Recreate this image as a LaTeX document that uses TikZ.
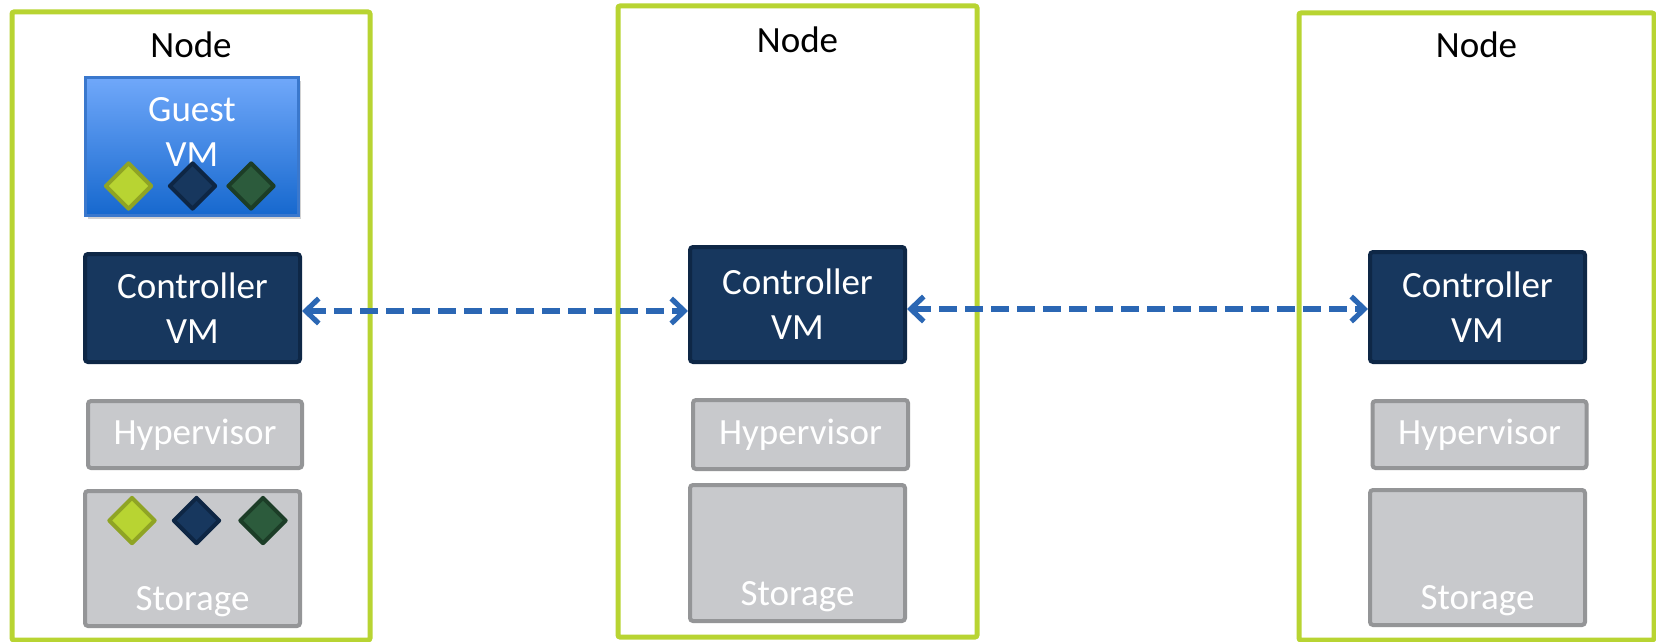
\documentclass[tikz,border=0pt]{standalone}
\usepackage{fontspec}
\setmainfont{Carlito}
\usetikzlibrary{arrows.meta,shapes.geometric,shadows}
\definecolor{nodegreen}{RGB}{184,212,50}
\definecolor{ctrlfill}{RGB}{23,55,94}
\definecolor{ctrlborder}{RGB}{14,39,70}
\definecolor{hypfill}{RGB}{200,201,204}
\definecolor{hypborder}{RGB}{148,149,151}
\definecolor{guesttop}{RGB}{112,168,250}
\definecolor{guestbot}{RGB}{22,104,206}
\definecolor{guestborder}{RGB}{58,120,205}
\definecolor{arrowblue}{RGB}{43,103,180}
\definecolor{limefill}{RGB}{184,212,50}
\definecolor{limeborder}{RGB}{143,164,36}
\definecolor{navyfill}{RGB}{23,55,94}
\definecolor{navyborder}{RGB}{14,38,68}
\definecolor{dgreenfill}{RGB}{44,91,60}
\definecolor{dgreenborder}{RGB}{28,61,39}
\tikzset{
  nodebox/.style={draw=nodegreen, line width=2.5pt, rounded corners=1pt, inner sep=0pt},
  nodelabel/.style={text=black, inner sep=0pt, font=\fontsize{18.5}{22.5}\selectfont},
  guestbox/.style={draw=guestborder, line width=1.5pt, top color=guesttop, bottom color=guestbot, inner sep=0pt,
     drop shadow={opacity=0.35, shadow xshift=1pt, shadow yshift=-2pt}},
  ctrlbox/.style={draw=ctrlborder, fill=ctrlfill, line width=2pt, rounded corners=1.5pt, inner sep=0pt,
     text=white, align=center, font=\fontsize{18.5}{22.5}\selectfont},
  grayboxs/.style={draw=hypborder, fill=hypfill, line width=2pt, rounded corners=1.5pt, inner sep=0pt},
  hyptext/.style={text=white, font=\fontsize{18.5}{22.5}\selectfont},
  boxtext/.style={text=white, inner sep=0pt, align=center, font=\fontsize{18.5}{22.5}\selectfont},
  gem/.style={diamond, shape aspect=1, minimum width=23.5pt, minimum height=23.5pt, inner sep=0pt, line width=2pt, line join=round},
  gemlime/.style={gem, draw=limeborder, fill=limefill},
  gemnavy/.style={gem, draw=navyborder, fill=navyfill},
  gemgreen/.style={gem, draw=dgreenborder, fill=dgreenfill},
  tipx/.style={},
  link/.style={draw=arrowblue, line width=2.6pt, dash pattern=on 9pt off 4pt,
     {Straight Barb[length=6.5pt,width=12.5pt,line width=2.6pt]}-{Straight Barb[length=6.5pt,width=12.5pt,line width=2.6pt]}}
}
\begin{document}
\begin{tikzpicture}[x=0.5pt,y=-0.5pt]
\useasboundingbox (0,0) rectangle (1656,642);
\fill[white] (0,0) rectangle (1656,642);

% outer node containers
\node[nodebox, minimum width=179pt, minimum height=314pt] (n1) at (191,326) {};
\node[nodebox, minimum width=179.5pt, minimum height=315.5pt] (n2) at (797.5,321.5) {};
\node[nodebox, minimum width=177.5pt, minimum height=313.5pt] (n3) at (1476.5,326.5) {};
\node[nodelabel] (t1) at (191,45) {Node};
\node[nodelabel] (t2) at (797.5,39.5) {Node};
\node[nodelabel] (t3) at (1476.5,45) {Node};

% guest VM
\node[guestbox, minimum width=106.5pt, minimum height=69pt] (gvm) at (192,146.5) {};
\node[boxtext] (gvmt) at (192,132) {Guest\\VM};
\node[gemlime] (gd1) at (128.5,186) {};
\node[gemnavy] (gd2) at (192.5,186) {};
\node[gemgreen] (gd3) at (251,186) {};

% controller VMs
\node[ctrlbox, minimum width=107.5pt, minimum height=54pt] (lc) at (192.5,308) {Controller\\VM};
\node[ctrlbox, minimum width=107.5pt, minimum height=57.5pt] (mc) at (797.5,304.5) {Controller\\VM};
\node[ctrlbox, minimum width=107.5pt, minimum height=55pt] (rc) at (1477.5,307) {Controller\\VM};

% hypervisors
\node[grayboxs, minimum width=107pt, minimum height=33.5pt, hyptext] (lh) at (195,434.5) {Hypervisor};
\node[grayboxs, minimum width=107.5pt, minimum height=34.5pt, hyptext] (mh) at (800.5,434.5) {Hypervisor};
\node[grayboxs, minimum width=107pt, minimum height=33.5pt, hyptext] (rh) at (1479.5,434.5) {Hypervisor};

% storage
\node[grayboxs, minimum width=107.5pt, minimum height=67.5pt] (ls) at (192.5,558.5) {};
\node[grayboxs, minimum width=107.5pt, minimum height=68pt] (ms) at (797.5,553) {};
\node[grayboxs, minimum width=107.5pt, minimum height=67.5pt] (rs) at (1477.5,557.5) {};
\node[boxtext, anchor=base] (lst) at ([yshift=9pt]ls.south) {Storage};
\node[boxtext, anchor=base] (mst) at ([yshift=9pt]ms.south) {Storage};
\node[boxtext, anchor=base] (rst) at ([yshift=9pt]rs.south) {Storage};
\node[gemlime] (sd1) at (132,520.5) {};
\node[gemnavy] (sd2) at (196.5,520.5) {};
\node[gemgreen] (sd3) at (263,520.5) {};

% connectors
\coordinate (a1) at (0,311);
\coordinate (a2) at (0,309);
\draw[link] (lc.east |- a1) -- (mc.west |- a1);
\draw[link] (mc.east |- a2) -- (rc.west |- a2);
\end{tikzpicture}
\end{document}
